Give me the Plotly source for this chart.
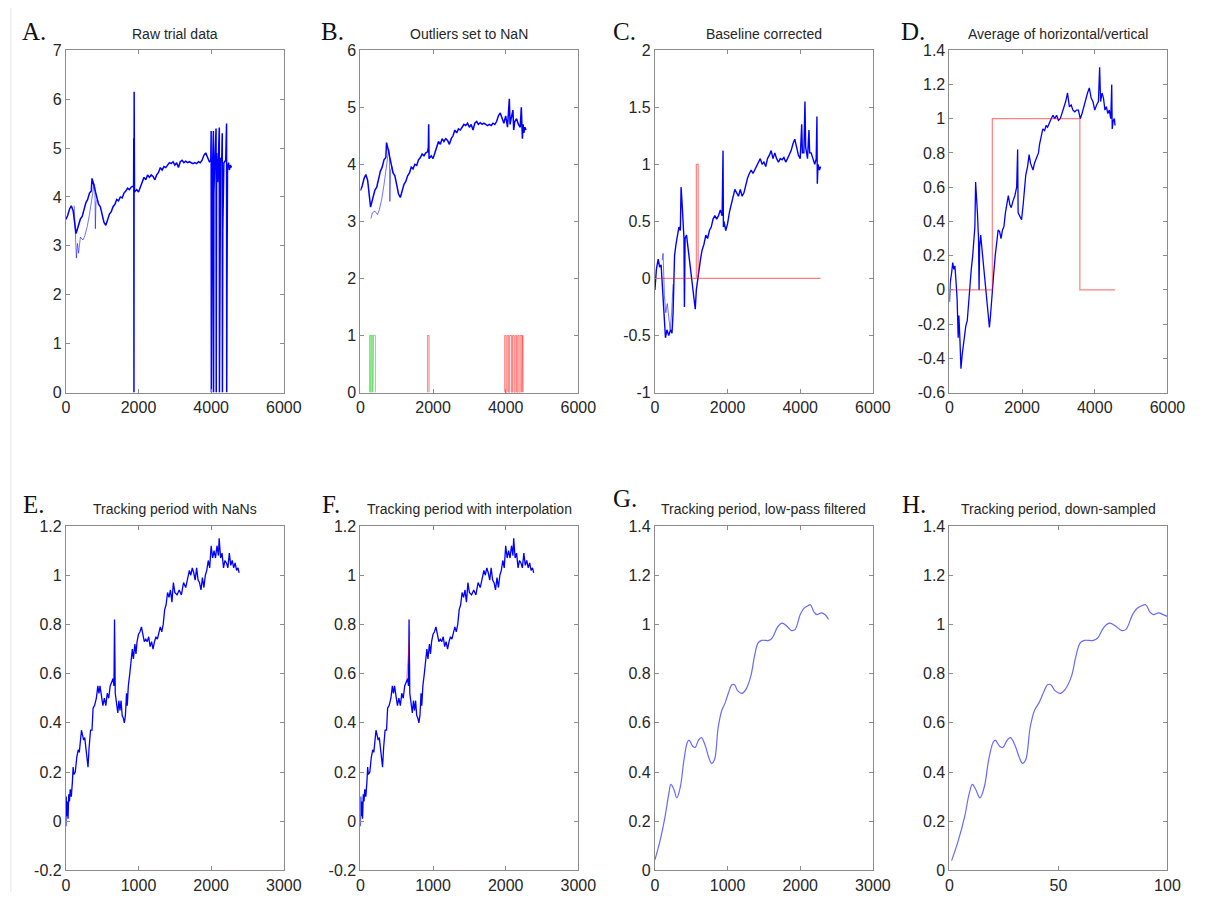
import plotly.graph_objects as go

W, H = 1208, 901

# ---------------- Data ----------------
# A. Raw trial data
raw_x = [0, 50, 100, 150, 200, 250, 280, 300, 350, 400, 450, 500, 550, 600, 650, 700, 720, 750, 780, 800,
         850, 900, 950, 1000, 1050, 1100, 1150, 1200, 1250, 1300, 1350, 1400, 1450, 1500, 1550, 1600, 1650,
         1700, 1750, 1800, 1850, 1865, 1870, 1875, 1880, 1885, 1890, 1950, 2000, 2050, 2100, 2150, 2200, 2250,
         2300, 2350, 2400, 2450, 2500, 2550, 2600, 2650, 2700, 2750, 2800, 2850, 2900, 2950, 3000, 3050, 3100,
         3150, 3200, 3250, 3300, 3350, 3400, 3450, 3500, 3550, 3600, 3650, 3700, 3750, 3800, 3850, 3900, 3950,
         3990, 4000, 4005, 4020, 4040, 4062, 4066, 4075, 4100, 4135, 4140, 4150, 4180, 4200, 4224, 4228, 4240,
         4260, 4290, 4305, 4310, 4320, 4350, 4400, 4424, 4428, 4432, 4436, 4450, 4480, 4500, 4530, 4560]
raw_y = [3.54, 3.62, 3.75, 3.82, 3.72, 3.45, 3.25, 3.3, 3.42, 3.55, 3.6, 3.75, 3.88, 3.95, 4.08, 4.12, 4.38, 4.3, 4.2, 4.15,
         3.95, 3.85, 3.8, 3.6, 3.48, 3.42, 3.55, 3.65, 3.7, 3.8, 3.85, 3.95, 3.92, 4.0, 3.98, 4.08, 4.12,
         4.18, 4.15, 4.2, 4.22, 4.2, 5.2, 0.0, 6.15, 3.6, 4.1, 4.15, 4.1, 4.2, 4.3, 4.4, 4.35, 4.45,
         4.4, 4.45, 4.42, 4.35, 4.45, 4.5, 4.6, 4.55, 4.62, 4.6, 4.65, 4.7, 4.68, 4.72, 4.65, 4.7, 4.6,
         4.72, 4.75, 4.7, 4.73, 4.7, 4.72, 4.7, 4.68, 4.7, 4.68, 4.72, 4.7, 4.75, 4.85, 4.9, 4.8, 4.72,
         4.75, 5.35, 0.0, 4.6, 4.7, 5.35, 0.0, 4.05, 4.75, 5.4, 0.0, 4.9, 4.3, 4.75, 5.42, 0.0, 2.9,
         4.8, 4.7, 5.3, 0.0, 3.3, 4.7, 4.75, 5.5, 0.0, 0.9, 2.15, 4.6, 4.7, 4.55, 4.65, 4.6]
raw2_x = [230, 260, 290, 320, 350, 400, 470, 520, 590, 650, 700, 740, 780, 800, 812, 830, 870, 900]
raw2_y = [3.82, 3.3, 2.75, 3.05, 2.85, 3.18, 3.12, 3.2, 3.4, 3.64, 3.92, 4.15, 4.27, 4.2, 3.35, 3.9, 3.95, 3.85]

# B. Outliers set to NaN
clean_x = [0, 50, 100, 150, 200, 250, 280, 300, 350, 400, 450, 500, 550, 600, 650, 700, 720, 750, 780, 800,
           850, 900, 950, 1000, 1050, 1100, 1150, 1200, 1250, 1300, 1350, 1400, 1450, 1500, 1550, 1600, 1650,
           1700, 1750, 1800, 1850, 1870, 1880, 1890, 1950, 2000, 2050, 2100, 2150, 2200, 2250,
           2300, 2350, 2400, 2450, 2500, 2550, 2600, 2650, 2700, 2750, 2800, 2850, 2900, 2950, 3000, 3050, 3100,
           3150, 3200, 3250, 3300, 3350, 3400, 3450, 3500, 3550, 3600, 3650, 3700, 3750, 3800, 3850, 3900, 3950,
           4000, 4050, 4100, 4120, 4150, 4200, 4220, 4250, 4300, 4350, 4400, 4430, 4460, 4480, 4500, 4530, 4560]
clean_y = [3.54, 3.62, 3.75, 3.82, 3.72, 3.45, 3.25, 3.3, 3.42, 3.55, 3.6, 3.75, 3.88, 3.95, 4.08, 4.12, 4.38, 4.3, 4.2, 4.15,
           3.95, 3.85, 3.8, 3.6, 3.48, 3.42, 3.55, 3.65, 3.7, 3.8, 3.85, 3.95, 3.92, 4.0, 3.98, 4.08, 4.12,
           4.18, 4.15, 4.2, 4.22, 4.3, 4.7, 4.1, 4.15, 4.1, 4.2, 4.3, 4.4, 4.35, 4.45,
           4.4, 4.45, 4.42, 4.35, 4.45, 4.5, 4.6, 4.55, 4.62, 4.6, 4.65, 4.7, 4.68, 4.72, 4.65, 4.7, 4.6,
           4.72, 4.75, 4.7, 4.73, 4.7, 4.72, 4.7, 4.68, 4.7, 4.68, 4.72, 4.7, 4.75, 4.85, 4.9, 4.8, 4.72,
           4.85, 4.65, 5.15, 4.7, 4.8, 4.95, 4.6, 4.75, 4.8, 4.7, 4.65, 5.0, 4.45, 4.7, 4.55, 4.65, 4.6]
clean2_x = [290, 330, 400, 470, 520, 590, 650, 700, 740, 780, 800, 812, 830, 870, 900]
clean2_y = [3.05, 3.15, 3.18, 3.12, 3.2, 3.4, 3.64, 3.92, 4.15, 4.27, 4.2, 3.35, 3.9, 3.95, 3.85]
blink_x = [250, 250, 290, 290, 300, 300, 340, 340, 360, 360, 414, 414]
blink_y = [0, 1, 1, 0, 0, 1, 1, 0, 0, 1, 1, 0]
outlier_x = [1850, 1850, 1890, 1890, None, 3973, 3973, 4010, 4010, 4041, 4041, 4080, 4080, 4110, 4110, 4162, 4162,
             4190, 4190, 4230, 4230, 4260, 4260, 4297, 4297, 4330, 4330, 4365, 4365, 4400, 4400, 4446, 4446,
             4460, 4460, 4478, 4478]
outlier_y = [0, 1, 1, 0, None, 0, 1, 1, 0, 0, 1, 1, 0, 0, 1, 1, 0,
             0, 1, 1, 0, 0, 1, 1, 0, 0, 1, 1, 0, 0, 1, 1, 0,
             0, 1, 1, 0]

# C. Baseline corrected
base_x = [0, 40, 90, 130, 170, 210, 250, 290, 330, 380, 430, 470, 500, 540, 580, 620, 660, 700, 720, 740, 770,
          800, 812, 830, 870, 900, 950, 1000, 1050, 1080, 1110, 1140, 1170, 1200, 1230, 1260, 1300, 1350, 1400,
          1450, 1500, 1550, 1600, 1650, 1700, 1750, 1800, 1850, 1875, 1885, 1900, 1950, 2000, 2050, 2100, 2150,
          2200, 2250, 2300, 2350, 2400, 2450, 2500, 2550, 2600, 2650, 2700, 2750, 2800, 2850, 2900, 2950, 3000,
          3050, 3100, 3150, 3200, 3250, 3300, 3350, 3400, 3450, 3500, 3550, 3600, 3650, 3700, 3750, 3800, 3850,
          3900, 3950, 4000, 4040, 4060, 4100, 4130, 4150, 4200, 4240, 4260, 4300, 4350, 4400, 4440, 4460, 4470,
          4490, 4530, 4560]
base_y = [-0.1, 0.08, 0.17, 0.1, 0.12, -0.1, -0.3, -0.52, -0.45, -0.5, -0.45, -0.48, -0.3, 0.2, 0.3, 0.38, 0.45,
          0.42, 0.8, 0.7, 0.45, 0.35, -0.25, 0.35, 0.38, 0.3, 0.15, 0.0, -0.15, -0.22, -0.27, -0.1, -0.02, 0.05,
          0.1, 0.18, 0.25, 0.3, 0.38, 0.35, 0.42, 0.45, 0.52, 0.55, 0.52, 0.55, 0.6, 0.55, 1.12, 0.45, 0.5, 0.42,
          0.48, 0.58, 0.65, 0.72, 0.78, 0.75, 0.72, 0.78, 0.72, 0.75, 0.82, 0.88, 0.92, 0.95, 0.92, 0.95, 0.98,
          1.02, 1.05, 1.0, 1.02, 0.98, 1.05, 1.08, 1.12, 1.05, 1.1, 1.05, 1.02, 1.05, 1.04, 1.06, 1.02, 1.05,
          1.08, 1.12, 1.18, 1.22, 1.15, 1.08, 1.05, 1.35, 1.1, 1.1, 1.55, 1.15, 1.05, 1.3, 1.1, 1.1, 1.05, 1.0,
          1.05, 1.42, 0.83, 1.0, 0.95, 0.98]
base2_x = [200, 225, 260, 300, 340, 380, 420, 460, 500]
base2_y = [0.16, 0.22, -0.15, -0.3, -0.22, -0.35, -0.45, -0.3, -0.05]
target_c_x = [0, 1140, 1140, 1190, 1190, 4560]
target_c_y = [0, 0, 1, 1, 0, 0]

# D. Average of horizontal/vertical
avg_x = [0, 20, 60, 90, 120, 150, 180, 210, 240, 260, 290, 316, 350, 380, 420, 450, 490, 520, 560, 600, 640,
         670, 700, 720, 745, 770, 800, 815, 830, 860, 890, 920, 960, 1000, 1040, 1080, 1100, 1130, 1160, 1190,
         1220, 1260, 1300, 1340, 1380, 1420, 1460, 1500, 1540, 1580, 1620, 1660, 1700, 1750, 1800, 1850, 1877,
         1890, 1930, 1985, 2030, 2060, 2100, 2150, 2193, 2230, 2260, 2300, 2340, 2400, 2450, 2480, 2530, 2570,
         2620, 2660, 2700, 2750, 2800, 2850, 2900, 2950, 3000, 3050, 3100, 3150, 3200, 3250, 3300, 3350, 3400,
         3450, 3500, 3550, 3600, 3650, 3700, 3750, 3800, 3850, 3900, 3950, 4000, 4050, 4100, 4134, 4160, 4200,
         4240, 4280, 4320, 4360, 4400, 4440, 4467, 4480, 4510, 4540, 4558]
avg_y = [-0.07, 0.04, 0.1, 0.16, 0.12, 0.14, 0.05, -0.05, -0.28, -0.15, -0.3, -0.46, -0.38, -0.32, -0.25, -0.21,
         -0.18, -0.1, 0.05, 0.12, 0.2, 0.3, 0.37, 0.63, 0.55, 0.45, 0.3, 0.0, 0.25, 0.32, 0.25, 0.18, 0.1, 0.0,
         -0.1, -0.18, -0.22, -0.15, -0.05, 0.0, 0.1, 0.2, 0.27, 0.35, 0.34, 0.3, 0.35, 0.37, 0.45, 0.5, 0.55,
         0.5, 0.48, 0.52, 0.55, 0.6, 0.82, 0.45, 0.43, 0.41, 0.5, 0.58, 0.67, 0.72, 0.79, 0.74, 0.72, 0.7, 0.74,
         0.77, 0.8, 0.85, 0.9, 0.94, 0.93, 0.96, 0.95, 0.98, 1.0, 1.02, 1.0, 1.02, 0.99, 1.0, 1.03, 1.06, 1.1,
         1.15, 1.07, 1.08, 1.05, 1.04, 1.05, 1.05, 1.0, 1.03, 1.07, 1.12, 1.15, 1.18, 1.12, 1.1, 1.05, 1.08,
         1.1, 1.3, 1.1, 1.15, 1.12, 1.05, 1.07, 1.03, 1.05, 1.0, 1.2, 0.94, 0.99, 1.0, 0.96]
target_d_x = [0, 1180, 1180, 3590, 3590, 4560]
target_d_y = [0, 0, 1, 1, 0, 0]

# E / F. Tracking period
track_x = [0, 5, 10, 20, 30, 40, 50, 60, 75, 90, 100, 110, 130, 150, 170, 185, 200, 215, 230, 245, 260, 275,
           290, 305, 320, 340, 360, 375, 395, 420, 440, 455, 470, 490, 510, 530, 550, 570, 590, 610, 630, 650,
           662, 670, 680, 700, 715, 730, 745, 760, 775, 790, 805, 820, 835, 845, 860, 880, 900, 915, 930, 950,
           965, 980, 1000, 1020, 1040, 1060, 1080, 1100, 1120, 1140, 1160, 1180, 1200, 1220, 1240, 1260, 1280,
           1300, 1320, 1340, 1360, 1380, 1400, 1420, 1440, 1460, 1480, 1500, 1530, 1560, 1590, 1620, 1650, 1680,
           1700, 1720, 1740, 1760, 1780, 1800, 1820, 1840, 1860, 1880, 1900, 1920, 1940, 1960, 1980, 2000, 2020,
           2040, 2060, 2080, 2100, 2110, 2130, 2150, 2170, 2190, 2210, 2230, 2250, 2270, 2290, 2310, 2330, 2350,
           2370, 2385]
track_y = [-0.02, 0.1, 0.02, 0.08, 0.01, 0.11, 0.08, 0.13, 0.1, 0.16, 0.22, 0.19, 0.2, 0.26, 0.29, 0.28, 0.34,
           0.37, 0.35, 0.33, 0.34, 0.3, 0.26, 0.22, 0.3, 0.37, 0.37, 0.46, 0.47, 0.5, 0.55, 0.52, 0.55, 0.5, 0.47,
           0.5, 0.47, 0.52, 0.5, 0.55, 0.57, 0.58, 0.55, 0.82, 0.52, 0.47, 0.44, 0.49, 0.45, 0.49, 0.43, 0.42, 0.4,
           0.43, 0.52, 0.47, 0.55, 0.6, 0.65, 0.7, 0.66, 0.72, 0.68, 0.73, 0.76, 0.77, 0.79, 0.76, 0.73, 0.74,
           0.73, 0.75, 0.71, 0.73, 0.7, 0.73, 0.75, 0.74, 0.77, 0.79, 0.77, 0.8, 0.86, 0.88, 0.93, 0.91, 0.94,
           0.89, 0.97, 0.93, 0.92, 0.94, 0.92, 0.97, 0.95, 1.0, 1.02, 1.0, 1.03, 1.01, 0.98, 1.03, 0.98, 0.97,
           0.94, 0.99, 0.95, 1.0, 1.02, 1.06, 1.03, 1.12, 1.07, 1.1, 1.07, 1.12, 1.08, 1.15, 1.07, 1.09, 1.03,
           1.06, 1.05, 1.03, 1.09, 1.04, 1.06, 1.03, 1.05, 1.02, 1.03, 1.01]
interp_x = [640, 680]
interp_y = [0.58, 0.77]

# G. Low-pass filtered
filt_x = [0, 70, 140, 190, 220, 260, 302, 350, 400, 445, 470, 520, 555, 600, 640, 690, 740, 780, 820, 870,
          920, 965, 1010, 1060, 1095, 1140, 1200, 1250, 1320, 1370, 1420, 1470, 1570, 1615, 1690, 1750, 1810,
          1880, 1930, 2000, 2050, 2100, 2140, 2190, 2230, 2290, 2340, 2390]
filt_y = [0.043, 0.12, 0.22, 0.31, 0.35, 0.33, 0.295, 0.34, 0.45, 0.52, 0.53, 0.505, 0.5, 0.53, 0.54, 0.51,
          0.46, 0.435, 0.45, 0.58, 0.65, 0.68, 0.72, 0.755, 0.755, 0.73, 0.72, 0.735, 0.79, 0.87, 0.925, 0.935,
          0.935, 0.945, 0.99, 1.005, 0.995, 0.975, 0.98, 1.04, 1.065, 1.075, 1.08, 1.05, 1.04, 1.047, 1.04, 1.02]

# H. Down-sampled
down_x = [1, 4, 7, 9, 10.5, 12, 14, 16, 18, 20, 21, 23, 24.5, 26.5, 28, 30, 32, 33.5, 35, 37, 39, 41, 43, 45,
          46.5, 48.5, 51, 53, 56, 58, 60, 62, 66, 68, 71, 73.5, 76, 79, 81, 84, 86, 88, 90, 92, 93.5, 96, 98, 100]
down_y = [0.04, 0.12, 0.22, 0.31, 0.35, 0.33, 0.295, 0.34, 0.45, 0.52, 0.53, 0.505, 0.5, 0.53, 0.54, 0.51, 0.46,
          0.435, 0.45, 0.58, 0.65, 0.68, 0.72, 0.755, 0.755, 0.73, 0.72, 0.735, 0.79, 0.87, 0.925, 0.935, 0.935,
          0.945, 0.99, 1.005, 0.995, 0.975, 0.98, 1.04, 1.065, 1.075, 1.08, 1.05, 1.04, 1.047, 1.04, 1.033]

# Titles, letters and ticks
titles = ["Raw trial data", "Outliers set to NaN", "Baseline corrected", "Average of horizontal/vertical",
          "Tracking period with NaNs", "Tracking period with interpolation", "Tracking period, low-pass filtered",
          "Tracking period, down-sampled"]
letters = ["A.", "B.", "C.", "D.", "E.", "F.", "G.", "H."]
xt_6000 = [0, 2000, 4000, 6000]
xt_3000 = [0, 1000, 2000, 3000]
xt_100 = [0, 50, 100]
yt_A = [0, 1, 2, 3, 4, 5, 6, 7]
yt_B = [0, 1, 2, 3, 4, 5, 6]
yt_C = [-1, -0.5, 0, 0.5, 1, 1.5, 2]
yt_D = [-0.6, -0.4, -0.2, 0, 0.2, 0.4, 0.6, 0.8, 1, 1.2, 1.4]
yt_EF = [-0.2, 0, 0.2, 0.4, 0.6, 0.8, 1, 1.2]
yt_GH = [0, 0.2, 0.4, 0.6, 0.8, 1, 1.2, 1.4]


def fmt(v):
    return "%g" % v


BLUE = "#0000ff"
BLUE_THIN = "rgba(0,0,255,0.55)"
BLUE_SMOOTH = "rgba(40,40,255,0.7)"
RED = "rgba(255,0,0,0.5)"
GREEN = "rgba(0,200,0,0.5)"

fig = go.Figure()


def add(i, x, y, color, width, shape="linear"):
    fig.add_trace(go.Scatter(x=x, y=y, mode="lines", line=dict(color=color, width=width, shape=shape),
                             xaxis="x" + ("" if i == 1 else str(i)), yaxis="y" + ("" if i == 1 else str(i)),
                             showlegend=False, hoverinfo="skip", connectgaps=False))


add(1, raw2_x, raw2_y, BLUE_THIN, 1)
add(1, raw_x, raw_y, BLUE, 1.5)
add(2, blink_x, blink_y, GREEN, 1)
add(2, outlier_x, outlier_y, RED, 1)
add(2, clean2_x, clean2_y, BLUE_THIN, 1)
add(2, clean_x, clean_y, BLUE, 1.5)
add(3, base2_x, base2_y, BLUE_THIN, 1)
add(3, base_x, base_y, BLUE, 1.4)
add(3, target_c_x, target_c_y, RED, 1.2)
add(4, avg_x, avg_y, BLUE, 1.3)
add(4, target_d_x, target_d_y, RED, 1.2)
add(5, track_x, track_y, BLUE, 1.3)
add(6, track_x, track_y, BLUE, 1.3)
add(6, interp_x, interp_y, RED, 1.2)
add(7, filt_x, filt_y, BLUE_SMOOTH, 1.2, "spline")
add(8, down_x, down_y, BLUE_SMOOTH, 1.2, "spline")

# panel geometry in pixels (left, right, top, bottom)
lefts = [63, 363, 663, 963]
rights = [285, 585, 885, 1185]
rows = [(43, 392), (528, 879)]
xranges = [[0, 6000]] * 4 + [[0, 3000]] * 3 + [[0, 100]]
xticks = [xt_6000] * 4 + [xt_3000] * 3 + [xt_100]
yranges = [[0, 7], [0, 6], [-1, 2], [-0.6, 1.4], [-0.2, 1.2], [-0.2, 1.2], [0, 1.4], [0, 1.4]]
yticks = [yt_A, yt_B, yt_C, yt_D, yt_EF, yt_EF, yt_GH, yt_GH]
letter_x = [16, 321, 618, 912, 17, 322, 618, 913]
letter_y = [24, 24, 24, 24, 506, 506, 500, 506]

AX = "#8c8c8c"
TICKFONT = dict(family="Liberation Sans, Arial, sans-serif", size=16, color="#262626")
layout = dict(width=W, height=H, margin=dict(l=0, r=0, t=0, b=0), paper_bgcolor="white",
              plot_bgcolor="white", showlegend=False)
annotations = []
for k in range(8):
    r, c = divmod(k, 4)
    top, bot = rows[r]
    xa = dict(domain=[lefts[c] / W, rights[c] / W], range=xranges[k], tickvals=xticks[k],
              ticktext=[fmt(v) for v in xticks[k]], showline=True, linecolor=AX, linewidth=1, mirror="ticks",
              ticks="inside", ticklen=4, tickcolor=AX, showgrid=False, zeroline=False, tickfont=TICKFONT,
              anchor="y" + ("" if k == 0 else str(k + 1)), fixedrange=True)
    ya = dict(domain=[1 - bot / H, 1 - top / H], range=yranges[k], tickvals=yticks[k],
              ticktext=[fmt(v) for v in yticks[k]], showline=True, linecolor=AX, linewidth=1, mirror="ticks",
              ticks="inside", ticklen=4, tickcolor=AX, showgrid=False, zeroline=False, tickfont=TICKFONT,
              anchor="x" + ("" if k == 0 else str(k + 1)), fixedrange=True)
    layout["xaxis" + ("" if k == 0 else str(k + 1))] = xa
    layout["yaxis" + ("" if k == 0 else str(k + 1))] = ya
    ty = 26 if r == 0 else 511
    annotations.append(dict(text=titles[k], x=(lefts[c] + rights[c]) / 2 / W, y=1 - ty / H, xref="paper",
                            yref="paper", xanchor="center", yanchor="middle", showarrow=False,
                            font=dict(family="Liberation Sans, Arial, sans-serif", size=14, color="#262626")))
    annotations.append(dict(text=letters[k], x=letter_x[k] / W, y=1 - letter_y[k] / H, xref="paper",
                            yref="paper", xanchor="left", yanchor="middle", showarrow=False,
                            font=dict(family="Liberation Serif, Times New Roman, serif", size=25, color="#111111")))
layout["annotations"] = annotations
layout["shapes"] = [dict(type="line", xref="paper", yref="paper", x0=7 / W, x1=7 / W, y0=0, y1=1,
                         line=dict(color="#e6e6e6", width=1))]
fig.update_layout(**layout)
fig.write_html("out.html", config={"displayModeBar": False},
               post_script="document.body.style.margin='0px';document.body.style.overflow='hidden';")
